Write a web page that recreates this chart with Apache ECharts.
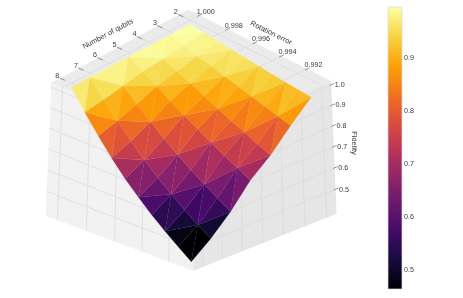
<!DOCTYPE html>
<html>
<head>
<meta charset="utf-8">
<style>html,body{margin:0;padding:0;background:#fff}#c{width:463px;height:298px}</style>
<script src="https://cdn.jsdelivr.net/npm/echarts@6/dist/echarts.min.js"></script>
</head>
<body>
<div id="c"></div>
<script>
// ---------- data ----------
const qubits = [2, 3, 4, 5, 6, 7, 8];
const rotationErrors = [1.000, 0.999, 0.998, 0.997, 0.996, 0.995, 0.994, 0.993, 0.992, 0.991];
const fidelityQ2 = [1, .993, .985, .977, .969, .961, .953, .946, .940, .934];
const fidelityQ3 = [1, .984, .967, .950, .932, .914, .896, .878, .860, .842];
const fidelityQ4 = [1, .972, .945, .916, .885, .854, .825, .798, .770, .743];
const fidelityQ5 = [1, .960, .921, .880, .840, .802, .765, .730, .697, .665];
const fidelityQ6 = [1, .941, .882, .826, .773, .723, .677, .634, .594, .555];
const fidelityQ7 = [1, .922, .847, .778, .714, .655, .602, .552, .506, .465];
const fidelityQ8 = [1, .906, .820, .740, .667, .603, .544, .490, .440, .392];
const fidelity = [fidelityQ2, fidelityQ3, fidelityQ4, fidelityQ5, fidelityQ6, fidelityQ7, fidelityQ8];
const qubitTicks = [2, 3, 4, 5, 6, 7, 8];
const errorTicks = [1.000, 0.998, 0.996, 0.994, 0.992];
const fidelityTicks = [0.5, 0.6, 0.7, 0.8, 0.9, 1.0];
const colorbarTicks = [0.5, 0.6, 0.7, 0.8, 0.9];
const colorMin = 0.464, colorMax = 0.996;
const infernoStops = [
  [0, '#000004'], [1/10, '#160b39'], [1/9, '#1b0c41'], [2/10, '#420a68'], [2/9, '#4a0c6b'],
  [3/10, '#6a176e'], [3/9, '#781c6d'], [4/10, '#932667'], [4/9, '#a52c60'], [5/10, '#bc3754'],
  [5/9, '#cf4446'], [6/10, '#dd513a'], [6/9, '#ed6925'], [7/10, '#f37819'], [7/9, '#fb9b06'],
  [8/10, '#fca50a'], [8/9, '#f7d13d'], [9/10, '#f6d746'], [1, '#fcffa4']
];

// ---------- axes limits and camera ----------
const qLim = [1.549, 8.485], eLim = [0.99012, 1.000794], zLim = [0.3875, 1.02];
const cam = { phi: 46 * Math.PI / 180, elev: 27 * Math.PI / 180, dist: 10, W: 1.1428, H: 0.857,
              sx: 176.5, sy: 174, cx: 191, cy: 147 };
const A = q => (q - qLim[0]) / (qLim[1] - qLim[0]);
const B = e => (eLim[1] - e) / (eLim[1] - eLim[0]);
const C = z => (z - zLim[0]) / (zLim[1] - zLim[0]);

function viewOf(a, b, c) {
  const x = (a - .5) * cam.W, y = (b - .5) * cam.W, z = (c - .5) * cam.H;
  const u = -x * Math.cos(cam.phi) + y * Math.sin(cam.phi);
  const t = -(x * Math.sin(cam.phi) + y * Math.cos(cam.phi));
  const d = t * Math.cos(cam.elev) - z * Math.sin(cam.elev);
  const v = t * Math.sin(cam.elev) + z * Math.cos(cam.elev);
  const f = cam.dist / (cam.dist - d);
  return { x: cam.cx + cam.sx * u * f, y: cam.cy - cam.sy * v * f, d };
}
const pt = (a, b, c) => { const p = viewOf(a, b, c); return [p.x, p.y]; };

function hex(h) { return [1, 3, 5].map(i => parseInt(h.substr(i, 2), 16)); }
function inferno(t) {
  t = Math.max(0, Math.min(1, t));
  for (let i = 1; i < infernoStops.length; i++) {
    if (t <= infernoStops[i][0]) {
      const [t0, c0] = infernoStops[i - 1], [t1, c1] = infernoStops[i];
      const k = (t - t0) / (t1 - t0), a = hex(c0), b = hex(c1);
      return 'rgb(' + a.map((v, n) => Math.round(v + (b[n] - v) * k)).join(',') + ')';
    }
  }
  return infernoStops[infernoStops.length - 1][1];
}

// ---------- surface triangles (alternating diagonals) ----------
const triangles = [];
function vert(i, j) { return [A(qubits[i]), B(rotationErrors[j]), C(fidelity[i][j])]; }
for (let i = 0; i < qubits.length - 1; i++) {
  for (let j = 0; j < rotationErrors.length - 1; j++) {
    const cells = (i + j) % 2 === 0
      ? [[[i, j + 1], [i + 1, j], [i, j]], [[i, j + 1], [i + 1, j], [i + 1, j + 1]]]
      : [[[i, j], [i + 1, j + 1], [i + 1, j]], [[i, j], [i + 1, j + 1], [i, j + 1]]];
    cells.forEach(t => {
      const v = t.map(p => vert(p[0], p[1]));
      const z = t.reduce((s, p) => s + fidelity[p[0]][p[1]], 0) / 3;
      const d = v.reduce((s, p) => s + viewOf(p[0], p[1], p[2]).d, 0) / 3;
      triangles.push({ v, z, d });
    });
  }
}
triangles.sort((p, q) => p.d - q.d);

// ---------- box: panes, grid, ticks ----------
const PANE_TOP = '#ebebeb', PANE_LEFT = '#f2f2f2', PANE_RIGHT = '#e6e6e6', GRID = '#d9d9d9', TICK = '#555', TXT = '#3a3a3a';
const backdrop = [];
backdrop.push({ k: 'poly', fill: PANE_TOP, p: [[0,0,1],[1,0,1],[1,1,1],[0,1,1]] });
backdrop.push({ k: 'poly', fill: PANE_LEFT, p: [[1,0,1],[1,0,0],[1,1,0],[1,1,1]] });
backdrop.push({ k: 'poly', fill: PANE_RIGHT, p: [[0,1,1],[0,1,0],[1,1,0],[1,1,1]] });
function seg(p, q, color, w) { backdrop.push({ k: 'line', p: [p, q], color: color, w: w }); }
qubitTicks.forEach(q => {
  const a = A(q);
  seg([a,0,1],[a,1,1],GRID,.7); seg([a,1,1],[a,1,0],GRID,.7);
  seg([a,-.005,1],[a,.03,1],TICK,.6);
});
errorTicks.forEach(e => {
  const b = B(e);
  seg([0,b,1],[1,b,1],GRID,.7); seg([1,b,1],[1,b,0],GRID,.7);
  seg([-.015,b,1],[.015,b,1],TICK,.6);
});
fidelityTicks.forEach(z => {
  const c = C(z);
  seg([1,0,c],[1,1,c],GRID,.7); seg([1,1,c],[0,1,c],GRID,.7);
  seg([-.02,1,c],[.01,1,c],TICK,.6);
});

// ---------- texts ----------
const FONT = '"Liberation Sans", Arial, sans-serif';
const texts = [];
qubitTicks.forEach(q => { const p = pt(A(q), 0, 1); texts.push({ t: String(q), x: p[0] - 3, y: p[1] - 2.5, s: 7.2 }); });
errorTicks.forEach(e => { const p = pt(0, B(e), 1); texts.push({ t: e.toFixed(3), x: p[0] + 6, y: p[1] - 3.5, s: 7.2 }); });
fidelityTicks.forEach(z => { const p = pt(0, 1, C(z)); texts.push({ t: z.toFixed(1), x: p[0] + 8.5, y: p[1] + .3, s: 7.2 }); });
texts.push({ t: 'Number of qubits', x: 108, y: 34, s: 7.4, r: 0.49 });
texts.push({ t: 'Rotation error', x: 271, y: 33, s: 7.4, r: -0.46 });
texts.push({ t: 'Fidelity', x: 354, y: 143, s: 7.4, r: -Math.PI / 2 });

const option = {
  animation: false,
  backgroundColor: '#fff',
  grid: { left: 388, top: 7, width: 14, height: 282, containLabel: false },
  xAxis: { type: 'value', min: 0, max: 1, show: false },
  yAxis: {
    type: 'value', position: 'right', min: colorMin, max: colorMax, splitLine: { show: false },
    axisLine: { show: false }, axisTick: { show: false },
    axisLabel: { customValues: colorbarTicks, margin: 2, color: TXT, fontFamily: 'Liberation Sans', fontSize: 7.2,
      formatter: v => v.toFixed(1) }
  },
  series: [
    { // colour bar
      type: 'custom', coordinateSystem: 'cartesian2d', silent: true, data: [[0, colorMin, 1, colorMax]],
      renderItem: (params, api) => {
        const p0 = api.coord([api.value(0), api.value(1)]), p1 = api.coord([api.value(2), api.value(3)]);
        return { type: 'rect', shape: { x: p0[0], y: p1[1], width: p1[0] - p0[0], height: p0[1] - p1[1] },
          style: { stroke: '#dcdcdc', lineWidth: .7,
            fill: new echarts.graphic.LinearGradient(0, 1, 0, 0, infernoStops.map(s => ({ offset: s[0], color: s[1] }))) } };
      }, encode: { x: [0, 2], y: [1, 3] }
    },
    { // panes, grid lines and tick marks
      type: 'custom', coordinateSystem: 'none', silent: true, clip: false, z: 2,
      data: backdrop.map((_, i) => [i]),
      renderItem: (params) => {
        const o = backdrop[params.dataIndex];
        if (o.k === 'poly') return { type: 'polygon', shape: { points: o.p.map(p => pt(p[0], p[1], p[2])) }, style: { fill: o.fill } };
        const a = pt(...o.p[0]), b = pt(...o.p[1]);
        return { type: 'line', shape: { x1: a[0], y1: a[1], x2: b[0], y2: b[1] }, style: { stroke: o.color, lineWidth: o.w } };
      }
    },
    { // surface
      type: 'custom', coordinateSystem: 'none', silent: true, clip: false, z: 3,
      data: triangles.map((_, i) => [i]),
      renderItem: (params) => {
        const o = triangles[params.dataIndex];
        const c = inferno((o.z - colorMin) / (colorMax - colorMin));
        return { type: 'polygon', shape: { points: o.v.map(p => pt(p[0], p[1], p[2])) },
          style: { fill: c, stroke: c, lineWidth: .2 } };
      }
    },
    { // axis texts
      type: 'custom', coordinateSystem: 'none', silent: true, clip: false, z: 4,
      data: texts.map((_, i) => [i]),
      renderItem: (params) => {
        const o = texts[params.dataIndex];
        return { type: 'text', x: o.x, y: o.y, rotation: o.r || 0,
          style: { text: o.t, fill: TXT, font: o.s + 'px ' + FONT, align: 'center', verticalAlign: 'middle' } };
      }
    }
  ]
};
echarts.init(document.getElementById('c'), null, { renderer: 'canvas' }).setOption(option);
</script>
</body>
</html>
